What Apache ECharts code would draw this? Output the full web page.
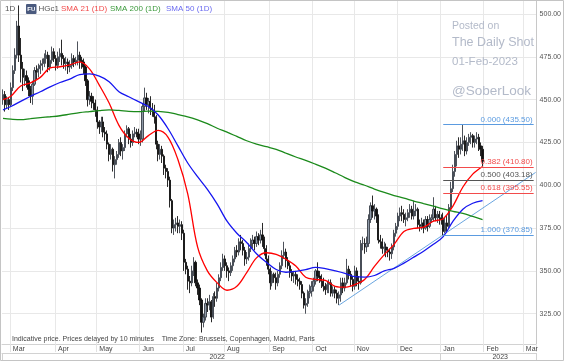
<!DOCTYPE html>
<html><head><meta charset="utf-8">
<script src="https://cdn.jsdelivr.net/npm/echarts@6/dist/echarts.min.js"></script>
<style>html,body{margin:0;padding:0;background:#fff}#c{width:564px;height:361px}</style>
</head><body><div id="c"></div>
<script>
// ---------- categories: trading weekdays ----------
const firstDay = '2022-02-23', lastDay = '2023-03-09';
function weekdayList(a, b) {
  const out = []; let d = new Date(a + 'T00:00:00Z'); const e = new Date(b + 'T00:00:00Z');
  while (d <= e) { const w = d.getUTCDay(); if (w !== 0 && w !== 6) out.push(d.toISOString().slice(0, 10)); d = new Date(d.getTime() + 86400000); }
  return out;
}
const dates = weekdayList(firstDay, lastDay);
const monthNames = ['Jan','Feb','Mar','Apr','May','Jun','Jul','Aug','Sep','Oct','Nov','Dec'];
const yearLabelDates = ['2022-07-26', '2023-02-13'];
const yTicks = [325, 350, 375, 400, 425, 450, 475, 500];

// ---------- HGc1 daily candles (from 2022-02-23) ----------
const opens = [450,453,447,450,447,457,467,476,493,476,
468,463,464,461,456,452,459,467,466,468,
470,471,474,476,469,473,478,474,470,475,
477,474,471,472,469,470,474,472,473,476,
473,472,469,461,450,452,449,448,444,437,
434,437,431,430,424,418,421,412,415,418,
425,420,422,430,433,427,425,430,431,430,
427,427,446,451,447,449,445,444,440,424,
418,421,417,410,408,403,391,375,377,378,
376,377,372,355,351,344,343,350,355,343,
340,333,320,323,331,330,332,323,335,334,
340,346,352,357,353,350,349,353,357,362,
361,367,366,362,357,358,363,366,368,366,
370,368,371,368,363,357,351,343,348,346,
343,348,353,359,361,356,353,349,347,348,
345,344,342,337,330,331,337,338,341,344,
350,347,346,344,341,339,342,343,337,339,
337,334,336,343,340,343,351,348,345,341,
350,344,343,366,366,364,366,380,388,385,
386,382,368,367,363,364,362,361,360,364,
372,376,382,384,383,380,381,384,386,382,
385,386,377,376,378,375,380,376,380,381,
386,381,383,381,380,373,378,376,387,398,
408,418,423,421,424,426,420,425,428,429,
425,427,428,423,421];
const closes = [453,447,450,447,457,467,476,493,476,468,
463,464,461,456,452,459,467,466,468,470,
471,474,476,469,473,478,474,470,475,477,
474,471,472,469,470,474,472,473,476,473,
472,469,461,450,452,449,448,444,437,434,
437,431,430,424,418,421,412,415,418,425,
420,422,430,433,427,425,430,431,430,427,
427,446,451,447,449,445,444,440,424,418,
421,417,410,408,403,391,375,377,378,376,
377,372,355,351,344,343,350,355,343,340,
333,320,323,331,330,332,323,335,334,340,
346,352,357,353,350,349,353,357,362,361,
367,366,362,357,358,363,366,368,366,370,
368,371,368,363,357,351,343,348,346,343,
348,353,359,361,356,353,349,347,348,345,
344,342,337,330,331,337,338,341,344,350,
347,346,344,341,339,342,343,337,339,337,
334,336,343,340,343,351,348,345,341,350,
344,343,366,366,364,366,380,388,385,386,
382,368,367,363,364,362,361,360,364,372,
376,382,384,383,380,381,384,386,382,385,
386,377,376,378,375,380,376,380,381,386,
381,383,381,380,373,378,376,387,398,408,
418,423,421,424,426,420,425,428,429,425,
427,428,423,421,414];
const lows = [447,443,445,444,446,455,465,474,472,460,
455,458,457,452,448,447,458,462,463,465,
467,469,471,466,467,471,472,467,468,472,
470,468,467,465,466,468,469,470,470,468,
468,465,458,446,447,445,444,440,433,430,
431,428,426,421,414,415,408,404,412,416,
417,415,420,428,424,422,423,428,428,424,
423,425,443,444,442,441,440,436,421,414,
415,413,406,404,399,387,372,371,373,372,
372,368,350,348,339,337,341,347,341,336,
330,314,317,321,326,327,320,322,329,332,
338,344,350,350,346,344,347,350,355,358,
359,362,359,353,354,356,361,363,362,364,
365,366,364,359,353,348,339,341,343,339,
341,346,351,357,352,351,346,344,343,342,
341,339,334,328,325,329,334,335,338,342,
344,343,340,338,336,337,337,335,335,334,
331,330,332,337,338,342,345,341,338,339,
341,339,342,362,360,361,364,378,381,380,
378,366,363,360,359,358,358,356,357,362,
370,374,379,379,378,376,379,381,380,380,
382,375,373,374,372,374,373,375,378,379,
379,378,377,377,370.85,372,373,375,386,396,
405,411,416,418,420,417,418,423,424,422,
422,424,420,417,411];
const highs = [456,455,452,451,460,470,480,496,505,486,
472,468,467,463,458,461,469,470,471,473,
474,477,479,478,476,481,480,476,478,480,
485,476,475,474,473,477,476,475,484,478,
475,474,470,462,455,454,452,450,446,438,
440,440,434,432,425,424,422,417,420,427,
428,424,432,435,434,430,432,434,433,433,
432,448,457,454,451,452,448,447,441,426,
424,423,418,412,410,405,392,380,381,382,
380,379,374,357,353,347,353,358,356,345,
342,334,325,334,334,336,333,337,338,343,
348,355,360,359,355,352,355,359,364,365,
369,371,368,364,361,366,369,371,370,373,
372,374,378,370,365,359,352,350,349,349,
350,355,362,367,363,358,355,351,350,350,
348,346,344,338,334,339,342,344,346,351,
355,350,348,346,343,344,345,345,341,341,
339,338,346,346,346,357,353,350,347,353,
352,347,368,370,369,370,383,390,394,389,
387,383,371,369,367,366,364,363,366,374,
378,384,387,388,386,384,386,389,388,391,
389,387,380,381,380,382,382,383,383,393,
388,385,385,383,384,381,382,389,402,412,
420,426,428,428,435.5,429,428,430,431,430,
429,431,430,425,423];

// ---------- moving averages read weekly (Tuesdays) ----------
const smaDates = ['2022-02-23','2022-03-01','2022-03-08','2022-03-15','2022-03-22','2022-03-29','2022-04-05','2022-04-12','2022-04-19','2022-04-26',
'2022-05-03','2022-05-10','2022-05-17','2022-05-24','2022-05-31','2022-06-07','2022-06-14','2022-06-21','2022-06-28','2022-07-05',
'2022-07-12','2022-07-19','2022-07-26','2022-08-02','2022-08-09','2022-08-16','2022-08-23','2022-08-30','2022-09-06','2022-09-13',
'2022-09-20','2022-09-27','2022-10-04','2022-10-11','2022-10-18','2022-10-25','2022-11-01','2022-11-08','2022-11-15','2022-11-22',
'2022-11-29','2022-12-06','2022-12-13','2022-12-20','2022-12-27','2023-01-03','2023-01-10','2023-01-17','2023-01-24','2023-01-31'];
const sma21 = [450,452,458,459.8,463,468.5,469.2,470.3,472,468,
458.5,448,435,427.5,425,429,432,428,415,395,
364,350,343,338.7,341,349,357.6,360.6,359.7,356.8,
352.8,346.3,345,344.5,341,340.5,342,345,352.6,359.5,
365.5,373,374.8,375.5,379,380.5,388,399,406.5,411];
const sma50 = [444,446,449,452,454.6,457.5,460,462,464.6,465,
463.7,460.5,454.6,451.7,448.8,446,441,433,423,413,
405,397.6,389,379,372,366.6,360,355,350.8,349.2,
349.7,350.7,352,351.3,350,348.5,346.6,346.4,347.3,350,
351.5,354.5,358,361.5,365.5,370,379,386,389.5,391];
const sma200 = [439,438.6,438.3,438.9,439.5,440,440.6,441.5,442.4,443,
443.6,444,443.7,443.2,443,443.3,443.2,442.6,441.3,440,
438.2,436,433.3,431,428.5,426,424,422.5,421,418.7,
416.5,414.5,412.3,410,407.3,404.5,402,400,397.8,395.8,
394,392.5,390.8,389.3,387.8,386.2,384.8,383.6,381.8,380];

// ---------- Fibonacci retracement & trend line ----------
const fibStart = '2023-01-03', fibEnd = '2023-03-08';
const fibRatios = ['0.000','0.382','0.500','0.618','1.000'];
const fibLevels = [435.50, 410.80, 403.18, 395.55, 370.85];
const fibColors = ['#5b9be0','#f24b4b','#555555','#f24b4b','#5b9be0'];
const trendDates = ['2022-10-20', '2023-03-09'];
const trendValues = [330, 407.5];

// ---------- helpers ----------
const isMonthStart = i => i > 0 && dates[i].slice(5, 7) !== dates[i - 1].slice(5, 7);
const isYearTick = i => i === 0 || dates[i].slice(0, 4) !== dates[i - 1].slice(0, 4);
const FONT = '"Liberation Sans", Arial, sans-serif';

const candleData = opens.map((o, i) => [o, closes[i], lows[i], highs[i]]);
const mk = arr => smaDates.map((d, i) => [d, arr[i]]);

const chart = echarts.init(document.getElementById('c'), null, { renderer: 'canvas', width: 564, height: 361 });
chart.setOption({
  animation: false,
  backgroundColor: '#fff',
  textStyle: { fontFamily: FONT },
  grid: { left: 2, right: 27, top: 1, bottom: 16, containLabel: false },
  xAxis: [{
    type: 'category', data: dates, boundaryGap: true, position: 'bottom',
    axisLine: { show: true, lineStyle: { color: '#d2d2d2', width: 1 } },
    axisTick: { show: true, interval: isMonthStart, length: 8, lineStyle: { color: '#e2e2e2' } },
    axisLabel: { interval: isMonthStart, formatter: v => monthNames[+v.slice(5, 7) - 1], align: 'left',
      padding: [0, 0, 0, 2], fontSize: 7, color: '#444', margin: 2, fontFamily: FONT },
    splitLine: { show: true, interval: isMonthStart, lineStyle: { color: '#e8e8e8', width: 1 } }
  }, {
    type: 'category', data: dates, boundaryGap: true, position: 'bottom', offset: 9,
    axisLine: { show: true, lineStyle: { color: '#d2d2d2', width: 1 } },
    axisTick: { show: true, interval: isYearTick, length: 7, lineStyle: { color: '#d2d2d2' } },
    axisLabel: { interval: i => yearLabelDates.includes(dates[i]), formatter: v => v.slice(0, 4),
      fontSize: 7, color: '#444', margin: 1, fontFamily: FONT },
    splitLine: { show: false }
  }],
  yAxis: {
    type: 'value', position: 'right', min: 307.3, max: 507.6, scale: true,
    axisLine: { show: true, lineStyle: { color: '#c8c8c8' } },
    axisTick: { show: false, customValues: yTicks },
    axisLabel: { customValues: yTicks, formatter: v => v.toFixed(2), fontSize: 7, color: '#555', margin: 3, fontFamily: FONT },
    splitLine: { show: true, lineStyle: { color: '#e8e8e8', width: 1 } }
  },
  series: [{
    type: 'candlestick', name: 'HGc1', data: candleData, barWidth: 1.7,
    itemStyle: { color: '#8d98a6', color0: '#111111', borderColor: '#3a4048', borderColor0: '#111111', borderWidth: 0.9 },
    markLine: {
      silent: true, symbol: ['none', 'none'], animation: false,
      data: fibLevels.map((lv, k) => [
        { coord: [fibStart, lv], lineStyle: { color: fibColors[k], width: 1, type: 'solid' },
          label: { show: true, position: 'insideEndTop', distance: 1, formatter: fibRatios[k] + ' (' + lv.toFixed(2) + ')',
            color: fibColors[k], fontSize: 8, fontFamily: FONT } },
        { coord: [fibEnd, lv] }
      ])
    }
  }, {
    type: 'line', name: 'SMA 21 (1D)', data: mk(sma21), smooth: 0.35, showSymbol: false,
    lineStyle: { color: '#ff0000', width: 1.3 }, z: 3
  }, {
    type: 'line', name: 'SMA 200 (1D)', data: mk(sma200), smooth: 0.35, showSymbol: false,
    lineStyle: { color: '#1b8a1b', width: 1.3 }, z: 3
  }, {
    type: 'line', name: 'SMA 50 (1D)', data: mk(sma50), smooth: 0.35, showSymbol: false,
    lineStyle: { color: '#1515f0', width: 1.3 }, z: 3
  }, {
    type: 'line', name: 'trend', data: trendDates.map((d, i) => [d, trendValues[i]]), showSymbol: false,
    lineStyle: { color: '#6aa6e0', width: 1 }, z: 2
  }],
  graphic: [
    { type: 'rect', shape: { x: 0.5, y: 0.5, width: 563, height: 360 }, style: { fill: 'none', stroke: '#c4c4c4', lineWidth: 1 }, z: 100 },
    { type: 'text', x: 5, y: 9, style: { text: '1D', fill: '#555', font: '8px ' + FONT, textVerticalAlign: 'middle' }, z: 50 },
    { type: 'rect', shape: { x: 26, y: 4, width: 10.5, height: 10, r: 1 }, style: { fill: '#4a5a7e' }, z: 50 },
    { type: 'text', x: 31.25, y: 9.2, style: { text: 'FU', fill: '#fff', font: 'bold 6px ' + FONT, textAlign: 'center', textVerticalAlign: 'middle' }, z: 51 },
    { type: 'text', x: 38.5, y: 9, style: { text: 'HGc1', fill: '#555', font: '8px ' + FONT, textVerticalAlign: 'middle' }, z: 50 },
    { type: 'text', x: 61, y: 9, style: { text: 'SMA 21 (1D)', fill: '#f24b4b', font: '8px ' + FONT, textVerticalAlign: 'middle' }, z: 50 },
    { type: 'text', x: 110, y: 9, style: { text: 'SMA 200 (1D)', fill: '#3c9a3c', font: '8px ' + FONT, textVerticalAlign: 'middle' }, z: 50 },
    { type: 'text', x: 166, y: 9, style: { text: 'SMA 50 (1D)', fill: '#6b6bf0', font: '8px ' + FONT, textVerticalAlign: 'middle' }, z: 50 },
    { type: 'text', x: 452, y: 26, style: { text: 'Posted on', fill: '#b3bac9', font: '10.5px ' + FONT, textVerticalAlign: 'middle' }, z: 50 },
    { type: 'text', x: 452, y: 43, style: { text: 'The Daily Shot', fill: '#b3bac9', font: '12.5px ' + FONT, textVerticalAlign: 'middle' }, z: 50 },
    { type: 'text', x: 452, y: 62, style: { text: '01-Feb-2023', fill: '#b3bac9', font: '11.5px ' + FONT, textVerticalAlign: 'middle' }, z: 50 },
    { type: 'text', x: 452, y: 91, style: { text: '@SoberLook', fill: '#b3bac9', font: '13.5px ' + FONT, textVerticalAlign: 'middle' }, z: 50 },
    { type: 'text', x: 12, y: 339.5, style: { text: 'Indicative price. Prices delayed by 10 minutes    Time Zone: Brussels, Copenhagen, Madrid, Paris', fill: '#444', font: '7px ' + FONT, textVerticalAlign: 'middle' }, z: 50 }
  ]
});
</script></body></html>
